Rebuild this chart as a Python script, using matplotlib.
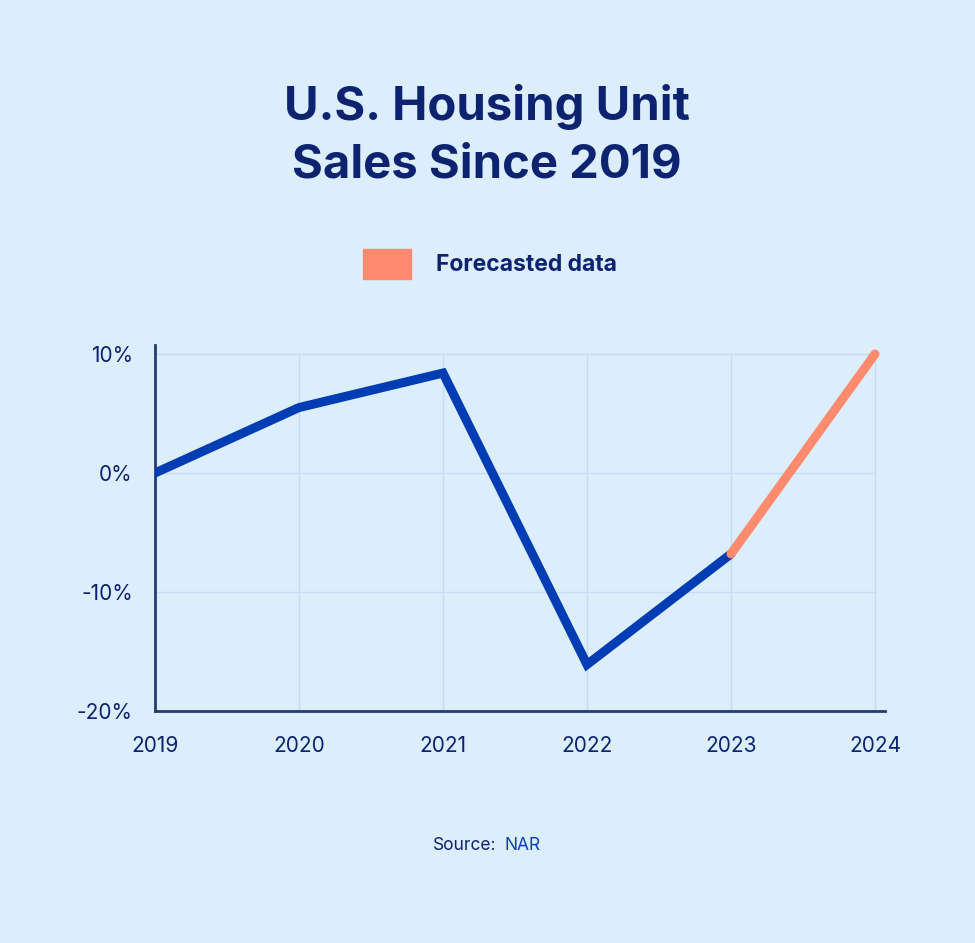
import matplotlib.pyplot as plt
from matplotlib.patches import Rectangle

years = [2019, 2020, 2021, 2022, 2023, 2024]
sales = [0, 5.5, 8.4, -16.1, -6.8, 10.0]
n_actual = 5  # 2019-2023 actual, 2023-2024 forecast
y_ticks = [10, 0, -10, -20]
y_labels = ["10%", "0%", "-10%", "-20%"]

bg = "#DCEEFC"
navy = "#0D2370"
blue = "#003CB4"
orange = "#FF8A6E"
grid_c = "#C6DCF4"
spine_c = "#253C70"

plt.rcParams['font.family'] = ['Inter', 'DejaVu Sans']

W, H = 975, 943
fig = plt.figure(figsize=(W/100, H/100), dpi=100, facecolor=bg)
ax = fig.add_axes([155/W, (H-711)/H, 730/W, (711-345)/H])
ax.set_facecolor(bg)

# grid only inside the data box (2019-2024, -20..10)
ax.hlines(y_ticks, years[0], years[-1], color=grid_c, lw=1, zorder=0)
ax.vlines(years, min(y_ticks), max(y_ticks), color=grid_c, lw=1, zorder=0)

ax.plot(years[:n_actual], sales[:n_actual], color=blue, lw=6.5,
        solid_capstyle='round', solid_joinstyle='miter', zorder=3)
ax.plot(years[n_actual-1:], sales[n_actual-1:], color=orange, lw=6.5,
        solid_capstyle='round', zorder=3)

ax.set_xlim(2019, 2019 + 730/144)
ax.set_ylim(-20, -20 + (711-345)/11.9)
ax.set_xticks(years)
ax.set_xticklabels([str(y) for y in years])
ax.set_yticks(y_ticks)
ax.set_yticklabels(y_labels)
ax.tick_params(length=0, labelsize=15, colors=navy, pad=18)
ax.tick_params(axis='y', pad=16)
for s in ['top', 'right']:
    ax.spines[s].set_visible(False)
for s in ['left', 'bottom']:
    ax.spines[s].set_color(spine_c)
    ax.spines[s].set_linewidth(2)

fig.text(487/W, 1-107/H, "U.S. Housing Unit", ha='center', va='center',
         fontsize=34, fontweight='bold', color=navy)
fig.text(487/W, 1-165/H, "Sales Since 2019", ha='center', va='center',
         fontsize=34, fontweight='bold', color=navy)

fig.patches.append(Rectangle((363/W, 1-279/H), 48/W, 30/H, transform=fig.transFigure,
                             color=orange))
fig.text(436/W, 1-265/H, "Forecasted data", ha='left', va='center',
         fontsize=16.5, fontweight='bold', color=navy)

fig.text(433/W, 1-845/H, "Source:", ha='left', va='center', fontsize=12.5, color=navy)
fig.text(504/W, 1-845/H, "NAR", ha='left', va='center', fontsize=12.5, color="#0B3FC0")

fig.savefig("out.png", dpi=100, facecolor=bg)
